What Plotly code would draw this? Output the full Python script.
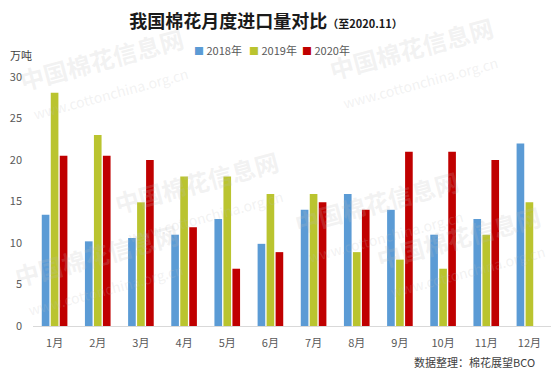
import plotly.graph_objects as go

months = ["1月", "2月", "3月", "4月", "5月", "6月", "7月", "8月", "9月", "10月", "11月", "12月"]
y2018 = [13.4, 10.2, 10.6, 11.0, 12.9, 9.9, 14.0, 15.9, 14.0, 11.0, 12.9, 22.0]
y2019 = [28.1, 23.0, 14.9, 18.0, 18.0, 15.9, 15.9, 8.9, 8.0, 6.9, 11.0, 14.9]
y2020 = [20.5, 20.5, 20.0, 11.9, 6.9, 8.9, 14.9, 14.0, 21.0, 21.0, 20.0, None]
series_names = ["2018年", "2019年", "2020年"]
colors = ["#5B9BD5", "#BAC42F", "#C00000"]
yticks = [0, 5, 10, 15, 20, 25, 30]

W, H = 551, 370
L, R, T, B = 33, 0, 77, 44
PW, PH = W - L - R, H - T - B


def px(x):
    return (x - L) / PW


def py(y):
    return (H - B - y) / PH


fig = go.Figure()
for name, vals, c in zip(series_names, [y2018, y2019, y2020], colors):
    fig.add_trace(go.Bar(x=months, y=vals, name=name, marker_color=c,
                         marker_line_width=0, showlegend=False))

font_family = "Microsoft YaHei, Noto Sans CJK SC, sans-serif"

wm = [(105, 72), (415, 62), (200, 195), (380, 215), (100, 268), (462, 250)]
annotations = []
for (x, y) in wm:
    annotations.append(dict(
        x=px(x), y=py(y), xref="paper", yref="paper", showarrow=False,
        xanchor="center", yanchor="middle",
        text="<b>中国棉花信息网</b><br><span style='font-size:14px'>www.cottonchina.org.cn</span>",
        font=dict(size=24, color="rgba(190,190,190,0.2)", family=font_family),
        textangle=-15,
    ))

# legend drawn as text with coloured squares
legend_x = [192, 247, 300]
for name, c, lx in zip(series_names, colors, legend_x):
    annotations.append(dict(
        x=px(lx), y=py(50), xref="paper", yref="paper", showarrow=False,
        xanchor="left", yanchor="middle",
        text=f"<span style='color:{c};font-size:10px'>■</span> {name}",
        font=dict(size=11, color="#595959"),
    ))

annotations += [
    dict(x=px(8), y=py(55), xref="paper", yref="paper", text="万吨",
         showarrow=False, xanchor="left", yanchor="middle", font=dict(size=11, color="#404040")),
    dict(x=px(537), y=py(362), xref="paper", yref="paper", text="数据整理：棉花展望BCO",
         showarrow=False, xanchor="right", yanchor="middle", font=dict(size=11, color="#404040")),
]

fig.update_layout(
    width=W, height=H,
    margin=dict(l=L, r=R, t=T, b=B),
    paper_bgcolor="white", plot_bgcolor="white",
    barmode="group", bargap=0.375, bargroupgap=0.15,
    font=dict(family=font_family, size=11, color="#595959"),
    title=dict(
        text="<b>我国棉花月度进口量对比</b><span style='font-size:11px'><b>（至2020.11）</b></span>",
        x=266 / W, xanchor="center", xref="container",
        y=1 - 22 / H, yanchor="middle", yref="container",
        font=dict(size=18, color="#1a1a1a", family="Noto Sans CJK SC, serif"),
    ),
    xaxis=dict(
        showgrid=False, showline=True, linecolor="#D9D9D9", linewidth=1,
        ticks="", ticklabelstandoff=7, tickfont=dict(size=11, color="#595959"),
    ),
    yaxis=dict(
        range=[0, 30], tickvals=yticks, showgrid=False, zeroline=False,
        showline=False, ticks="", ticklabelstandoff=10,
        tickfont=dict(size=11, color="#595959"),
    ),
    showlegend=False,
    annotations=annotations,
)

fig.write_html("out.html", config={"displayModeBar": False},
               post_script="document.body.style.margin='0px';")
